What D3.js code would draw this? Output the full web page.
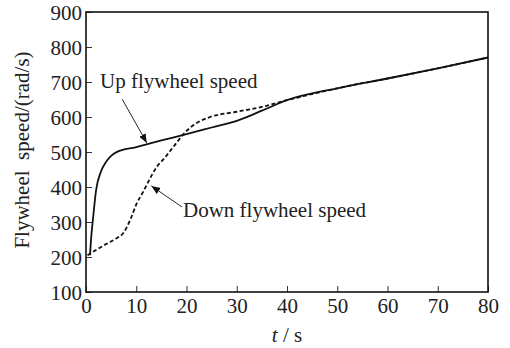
<!DOCTYPE html>
<html>
<head>
<meta charset="utf-8">
<script src="https://cdn.jsdelivr.net/npm/d3@7"></script>
</head>
<body style="margin:0">
<svg id="chrt" width="510" height="348" font-family="Liberation Serif"></svg>
<script>
// flywheel speed curves, [t (s), speed (rad/s)]
const upSpeed = [[0.8, 205], [1.0, 250], [1.4, 310], [2, 390], [3, 445], [4, 472], [5, 489], [6, 499], [10, 514], [15, 533], [20, 551], [25, 570], [30, 589], [35, 618], [40, 648], [50, 682], [60, 710], [70, 739], [80, 770]];
const downSpeed = [[0.3, 205], [2, 220], [4, 237], [6, 253], [7.4, 268], [8.8, 306], [10.1, 353], [11.4, 387], [12.4, 415], [14.1, 458], [15.4, 479], [17.4, 515], [19.4, 551], [21.4, 577], [24.7, 600], [30, 615], [35, 629], [40, 648], [50, 682], [60, 710], [70, 739], [80, 770]];
const xTicks = [0, 10, 20, 30, 40, 50, 60, 70, 80];
const yTicks = [100, 200, 300, 400, 500, 600, 700, 800, 900];
// annotation: label anchor and arrow (from -> to), in data units
const annotations = [
  { label: 'Up flywheel speed', at: [2.8, 683], from: [7.2, 651], to: [12.1, 526] },
  { label: 'Down flywheel speed', at: [19.3, 314], from: [19.1, 343], to: [13.0, 403] }
];

const serif = 'Liberation Serif';
const fontSize = 21;
const margin = { top: 12, right: 22, bottom: 56, left: 86 };
const width = 510 - margin.left - margin.right;
const height = 348 - margin.top - margin.bottom;

const scaleX = d3.scaleLinear().domain([0, 80]).range([0, width]);
const scaleY = d3.scaleLinear().domain([100, 900]).range([height, 0]);

const svg = d3.select('#chrt');

svg.append('defs').append('marker')
    .attr('id', 'arr')
    .attr('viewBox', '0 0 10 10')
    .attr('refX', 10).attr('refY', 5)
    .attr('markerWidth', 9).attr('markerHeight', 9)
    .attr('markerUnits', 'userSpaceOnUse')
    .attr('orient', 'auto')
    .append('path')
    .attr('d', 'M0,1 L10,5 L0,9 Z')
    .attr('fill', '#111');

const chrt = svg.append('g')
    .attr('transform', 'translate(' + margin.left + ',' + margin.top + ')');

// axes with inward ticks
const xAxis = chrt.append('g')
    .attr('transform', 'translate(0,' + height + ')')
    .call(d3.axisBottom(scaleX).tickValues(xTicks).tickSizeInner(-6).tickSizeOuter(0).tickPadding(6));
const yAxis = chrt.append('g')
    .call(d3.axisLeft(scaleY).tickValues(yTicks).tickSizeInner(-6).tickSizeOuter(0).tickPadding(4));

[xAxis, yAxis].forEach((ax) => {
  ax.attr('font-family', serif).attr('font-size', fontSize);
  ax.selectAll('text')
      .attr('fill', '#222')
      .attr('font-family', serif)
      .attr('font-size', fontSize);
  ax.selectAll('line').attr('stroke', '#333').attr('stroke-width', 1);
  ax.select('.domain').remove();
});
yAxis.selectAll('text').attr('dy', '0.34em');

// frame
chrt.append('rect')
    .attr('width', width)
    .attr('height', height)
    .attr('fill', 'none')
    .attr('stroke', '#111')
    .attr('stroke-width', 1.6);

const line = d3.line()
    .x((d) => scaleX(d[0]))
    .y((d) => scaleY(d[1]))
    .curve(d3.curveMonotoneX);

chrt.append('path')
    .datum(downSpeed)
    .attr('fill', 'none')
    .attr('stroke', '#111')
    .attr('stroke-width', 1.8)
    .attr('stroke-dasharray', '4,2.5')
    .attr('d', line);

chrt.append('path')
    .datum(upSpeed)
    .attr('fill', 'none')
    .attr('stroke', '#111')
    .attr('stroke-width', 1.8)
    .attr('d', line);

// annotations
annotations.forEach((a) => {
  chrt.append('line')
      .attr('x1', scaleX(a.from[0])).attr('y1', scaleY(a.from[1]))
      .attr('x2', scaleX(a.to[0])).attr('y2', scaleY(a.to[1]))
      .attr('stroke', '#111')
      .attr('stroke-width', 0.9)
      .attr('marker-end', 'url(#arr)');
  chrt.append('text')
      .attr('x', scaleX(a.at[0]))
      .attr('y', scaleY(a.at[1]))
      .attr('font-family', serif)
      .attr('font-size', fontSize)
      .attr('fill', '#222')
      .text(a.label);
});

// axis titles
const xTitle = svg.append('text')
    .attr('x', margin.left + width / 2)
    .attr('y', 342)
    .attr('text-anchor', 'middle')
    .attr('font-family', serif)
    .attr('font-size', fontSize)
    .attr('fill', '#222');
xTitle.append('tspan').attr('font-style', 'italic').text('t');
xTitle.append('tspan').text(' / s');

svg.append('text')
    .attr('transform', 'translate(22,150) rotate(-90)')
    .attr('text-anchor', 'middle')
    .attr('dy', '0.35em')
    .attr('font-family', serif)
    .attr('font-size', fontSize)
    .attr('fill', '#222')
    .text('Flywheel\u00A0 speed/(rad/s)');
</script>
</body>
</html>
